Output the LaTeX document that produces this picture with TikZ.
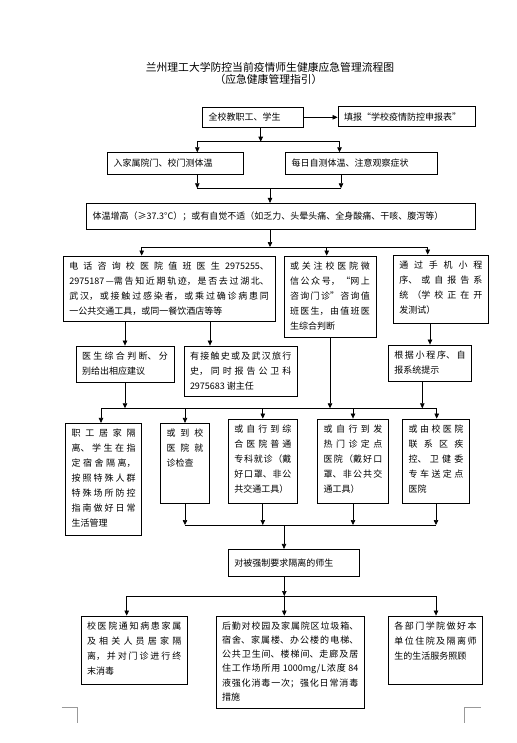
\documentclass[tikz,border=0pt]{standalone}
\usepackage{fontspec}
\setmainfont{Noto Sans CJK SC}
\usetikzlibrary{arrows.meta}
\XeTeXlinebreaklocale "zh"
\XeTeXlinebreakskip = 0pt plus 2pt

\begin{document}
\begin{tikzpicture}[
    x=1pt, y=-1pt,
    box/.style={rectangle, draw, line width=0.8pt, align=justify, inner xsep=6pt, inner ysep=5pt, font=\fontsize{9}{15}\selectfont},
    tall/.style={box, text height=8pt, text depth=#1},
    arrow/.style={-{Triangle[length=5pt, width=4.5pt]}, line width=0.7pt},
    bus/.style={line width=0.7pt},
    title/.style={font=\fontsize{10.8}{12}\selectfont},
    crop/.style={draw=black!40, line width=0.6pt},
]
\useasboundingbox (0,0) rectangle (516,743);

% Title
\node[title] (title) at (270,67.7) {兰州理工大学防控当前疫情师生健康应急管理流程图};
\node[title] (subtitle) at (268.5,79.3) {（应急健康管理指引）};

% Top rows
\node[box, text width=88.6pt, minimum height=20pt] (all) at (253,117.3) {全校教职工、学生};
\node[box, text width=125pt, minimum height=20pt] (report) at (406.5,116.7) {填报“学校疫情防控申报表”};
\node[box, text width=123.6pt, minimum height=21.6pt] (gate) at (175.5,163.5) {入家属院门、校门测体温};
\node[box, text width=139.6pt, minimum height=21.6pt] (self) at (361.5,163.5) {每日自测体温、注意观察症状};
\node[box, text width=376.3pt, minimum height=26pt] (fever) at (280.85,216.3) {体温增高（≥37.3°C）；或有自觉不适（如乏力、头晕头痛、全身酸痛、干咳、腹泻等）};

% Consultation
\node[tall=47.7pt, text width=199.7pt] (phone) at (169.15,288.85) {电话咨询校医院值班医生2975255、\linebreak 2975187—需告知近期轨迹，是否去过湖北、\linebreak 武汉，或接触过感染者，或乘过确诊病患同\linebreak 一公共交通工具，或同一餐饮酒店等等};
\node[tall=63pt, text width=80pt] (wechat) at (330,296.5) {或关注校医院微\linebreak 信公众号，“网上\linebreak 咨询门诊”咨询值\linebreak 班医生，由值班医\linebreak 生综合判断};
\node[tall=50.3pt, text width=83pt] (app) at (440.8,289.15) {通过手机小程\linebreak 序、或自报告系\linebreak 统（学校正在开\linebreak 发测试）};

\node[tall=18.3pt, text width=86pt] (doctor) at (125,364.15) {医生综合判断、分\linebreak 别给出相应建议};
\node[tall=32.7pt, text width=101.3pt] (contact) at (240.65,371.35) {有接触史或及武汉旅行\linebreak 史，同时报告公卫科\linebreak 2975683 谢主任};
\node[tall=18.7pt, text width=71.4pt] (prompt) at (430,363.35) {根据小程序、自\linebreak 报系统提示};

% Actions
\node[tall=93.7pt, text width=64pt] (home) at (103.7,479.15) {职工居家隔\linebreak 离、学生在指\linebreak 定宿舍隔离，\linebreak 按照特殊人群\linebreak 特殊场所防控\linebreak 指南做好日常\linebreak 生活管理};
\node[tall=62pt, text width=36.6pt] (clinic) at (185,463.3) {或到校\linebreak 医院就\linebreak 诊检查};
\node[tall=66.3pt, text width=57pt] (general) at (262.8,461.15) {或自行到综\linebreak 合医院普通\linebreak 专科就诊（戴\linebreak 好口罩、非公\linebreak 共交通工具）};
\node[tall=66.3pt, text width=58.6pt] (fevercl) at (353,461.15) {或自行到发\linebreak 热门诊定点\linebreak 医院（戴好口\linebreak 罩、非公共交\linebreak 通工具）};
\node[tall=66.3pt, text width=54.6pt] (cdc) at (436,461.15) {或由校医院\linebreak 联系区疾\linebreak 控、卫健委\linebreak 专车送定点\linebreak 医院};

\node[box, text width=119pt, minimum height=26.7pt] (forced) at (293.8,562.65) {对被强制要求隔离的师生};

% Follow-up
\node[tall=50pt, text width=94.3pt] (notify) at (134.15,650) {校医院通知病患家属\linebreak 及相关人员居家隔\linebreak 离，并对门诊进行终\linebreak 末消毒};
\node[tall=74.3pt, text width=136.3pt, font=\fontsize{9}{14.3}\selectfont] (logistic) at (290.15,662.15) {后勤对校园及家属院区垃圾箱、\linebreak 宿舍、家属楼、办公楼的电梯、\linebreak 公共卫生间、楼梯间、走廊及居\linebreak 住工作场所用 1000mg/L浓度 84\linebreak 液强化消毒一次；强化日常消毒\linebreak 措施};
\node[tall=50pt, text width=82.4pt] (dept) at (435.5,650) {各部门学院做好本\linebreak 单位住院及隔离师\linebreak 生的生活服务照顾};

% Junctions
\coordinate (s1) at (260.7,141.7);
\coordinate (s1l) at (197.3,141.7);
\coordinate (s1r) at (339.5,141.7);
\coordinate (s2l) at (197.3,188.3);
\coordinate (s2r) at (341,188.3);
\coordinate (s2) at (270,188.3);
\coordinate (s3) at (270,247);
\coordinate (s3l) at (141.7,247);
\coordinate (s3m) at (326.7,247);
\coordinate (s3r) at (427.7,247);
\coordinate (pc) at (210,334);
\coordinate (ps) at (422.3,394);
\coordinate (s4l) at (101,408.3);
\coordinate (s4r) at (436.7,408.3);
\coordinate (s5l) at (185,525);
\coordinate (s5r) at (436,525);
\coordinate (s5) at (284,525);
\coordinate (s6) at (284.3,596);
\coordinate (s6l) at (126.7,596);
\coordinate (s6r) at (436,596);

% Arrows
\draw[arrow] (all.east) -- (all.east -| report.west);
\draw[arrow] (all.south -| s1) -- (s1);
\draw[bus] (s1l) -- (s1r);
\draw[arrow] (s1l) -- (s1l |- gate.north);
\draw[arrow] (s1r) -- (s1r |- self.north);
\draw[arrow] (gate.south -| s2l) -- (s2l);
\draw[arrow] (self.south -| s2r) -- (s2r);
\draw[bus] (s2l) -- (s2r);
\draw[arrow] (s2) -- (s2 |- fever.north);
\draw[arrow] (fever.south -| s3) -- (s3);
\draw[bus] (s3l) -- (s3r);
\draw[arrow] (s3l) -- (s3l |- phone.north);
\draw[arrow] (s3m) -- (s3m |- wechat.north);
\draw[arrow] (s3r) -- (s3r |- app.north);

\draw[arrow] (phone.south -| doctor) -- (doctor.north);
\draw[arrow] (phone.south -| pc) -- (contact.north -| pc);
\draw[arrow] (app.south -| prompt) -- (prompt.north);

\draw[arrow] (doctor.south) -- (doctor.south |- s4l);
\draw[arrow] (wechat.south) -- (wechat.south |- s4l);
\draw[arrow] (prompt.south -| ps) -- (ps |- s4l);
\draw[bus] (s4l) -- (s4r);
\draw[arrow] (s4l) -- (s4l |- home.north);
\draw[arrow] (clinic.north |- s4l) -- (clinic.north);
\draw[arrow] (general.north |- s4l) -- (general.north);
\draw[arrow] (fevercl.north |- s4l) -- (fevercl.north);
\draw[arrow] (s4r) -- (s4r |- cdc.north);

\draw[arrow] (clinic.south) -- (clinic.south |- s5l);
\draw[arrow] (general.south) -- (general.south |- s5l);
\draw[arrow] (fevercl.south) -- (fevercl.south |- s5l);
\draw[arrow] (cdc.south) -- (cdc.south |- s5l);
\draw[bus] (s5l) -- (s5r);
\draw[arrow] (s5) -- (s5 |- forced.north);

\draw[arrow] (forced.south -| s6) -- (s6);
\draw[bus] (s6l) -- (s6r);
\draw[arrow] (s6l) -- (s6l |- notify.north);
\draw[arrow] (s6) -- (s6 |- logistic.north);
\draw[arrow] (s6r) -- (s6r |- dept.north);

% Page corners
\draw[crop] (61.7,707.3) -- (77.3,707.3) -- (77.3,723.3);
\draw[crop] (480.7,707.3) -- (464,707.3) -- (464,723.3);

\end{tikzpicture}
\end{document}
